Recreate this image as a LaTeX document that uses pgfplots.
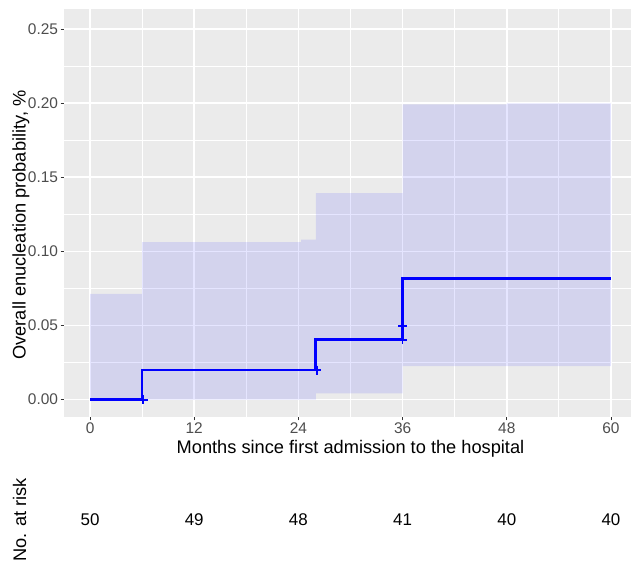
\documentclass[border=0pt]{standalone}
\usepackage{pgfplots}
\pgfplotsset{compat=1.18}
\usepackage{fontspec}
\setmainfont{Liberation Sans}
\definecolor{ggbg}{HTML}{EBEBEB}
\definecolor{ggtick}{HTML}{4D4D4D}
\definecolor{ggtickmark}{HTML}{333333}
\begin{document}
\begin{tikzpicture}[x=1bp,y=1bp]
\useasboundingbox (0,0) rectangle (631,562);
\begin{axis}[
  at={(64bp,145bp)}, anchor=south west,
  width=573bp, height=407.5bp, scale only axis,
  xmin=-3, xmax=63, ymin=-0.0117, ymax=0.2632,
  xtick={0,12,24,36,48,60},
  minor xtick={6,18,30,42,54},
  ytick={0,0.05,0.10,0.15,0.20,0.25},
  minor ytick={0.025,0.075,0.125,0.175,0.225},
  y tick label style={/pgf/number format/fixed,/pgf/number format/fixed zerofill,/pgf/number format/precision=2, xshift=1bp},
  /pgf/number format/assume math mode=true,
  grid=both,
  major grid style={white, line width=1.6bp},
  minor grid style={white, line width=0.8bp},
  axis background/.style={fill=ggbg},
  axis line style={draw=none},
  xtick pos=bottom, ytick pos=left,
  tick align=outside,
  major tick length=3.5bp, minor tick length=0pt,
  every tick/.style={ggtickmark, line width=0.8bp},
  tick label style={font=\fontsize{15.5}{18}\selectfont, text=ggtick},
  x tick label style={yshift=1bp},
  clip=false,
]
\addplot[fill=blue, fill opacity=0.1, draw=none] coordinates {
  (0,0.0714) (6,0.0714) (6,0.1063) (24.3,0.1063) (24.3,0.108) (26,0.108)
  (26,0.1393) (36,0.1393) (36,0.1992) (48,0.1992) (48,0.1999) (60,0.1999)
  (60,0.0227) (36,0.0227) (36,0.0043) (26,0.0043) (26,0) (0,0)
} -- cycle;
\addplot[const plot, blue, line width=2.6bp] coordinates {
  (0,0) (6,0.02) (26,0.0404) (36,0.0816) (60,0.0816)
};
\addplot[only marks, mark=+, mark size=4.5bp, blue, mark options={line width=1.8bp}] coordinates {
  (6.1,0) (26.1,0.02) (36,0.0404) (36,0.0497)
};
\end{axis}
\begin{axis}[
  at={(64bp,0bp)}, anchor=south west,
  width=573bp, height=84bp, scale only axis,
  xmin=-3, xmax=63, ymin=0, ymax=1,
  hide axis, clip=false,
]
\addplot[only marks, mark=none, nodes near coords, point meta=explicit symbolic,
  nodes near coords align={center},
  every node near coord/.style={font=\fontsize{17}{20}\selectfont, text=black, anchor=center}]
  table[meta=n] {
x y n
0 0.5 50
12 0.5 49
24 0.5 48
36 0.5 41
48 0.5 40
60 0.5 40
};
\end{axis}
\node[anchor=base, font=\fontsize{18.3}{22}\selectfont] at (350.5,108.7) {Months since first admission to the hospital};
\node[anchor=base, rotate=90, font=\fontsize{18.3}{22}\selectfont] at (25.5,337) {Overall enucleation probability, \%};
\node[anchor=base, rotate=90, font=\fontsize{18.3}{22}\selectfont] at (26,42) {No. at risk};
\end{tikzpicture}
\end{document}
